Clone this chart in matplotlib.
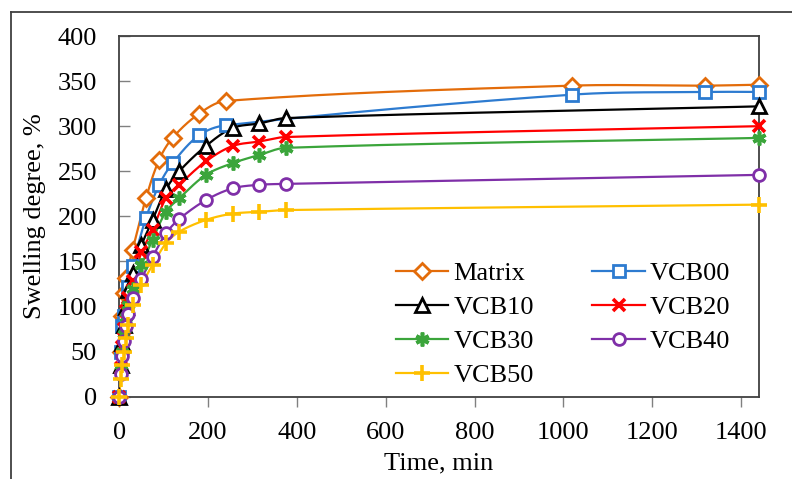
import numpy as np
import matplotlib
matplotlib.use("Agg")
import matplotlib.pyplot as plt
from matplotlib.lines import Line2D

# ---------------- data ----------------
t_matrix = [0, 3, 6, 10, 15, 30, 60, 90, 120, 180, 240, 1020, 1320, 1440]
matrix   = [0, 50, 90, 115, 132, 163, 220, 263, 287, 314, 328, 345, 345, 346]

t_vcb00 = [0, 3, 6, 10, 20, 30, 60, 90, 120, 180, 240, 1020, 1320, 1440]
vcb00   = [0, 50, 78, 90, 122, 145, 198, 235, 259, 290, 301, 335, 338, 338]

t_vcb = [0, 3, 6, 10, 15, 20, 30, 50, 75, 105, 135, 195, 255, 315, 375, 1440]
vcb10 = [0, 35, 60, 80, 100, 118, 137, 168, 196, 230, 250, 278, 298, 303, 309, 322]
vcb20 = [0, 32, 55, 75, 95, 110, 128, 160, 185, 220, 235, 261, 278, 283, 288, 300]
vcb30 = [0, 30, 50, 70, 88, 102, 120, 146, 174, 205, 220, 246, 259, 268, 276, 287]
vcb40 = [0, 25, 45, 62, 78, 92, 110, 131, 155, 181, 197, 218, 231, 235, 236, 246]
vcb50 = [0, 20, 35, 50, 65, 80, 102, 124, 146, 170, 183, 196, 203, 205, 207, 213]

names = ["Matrix", "VCB00", "VCB10", "VCB20", "VCB30", "VCB40", "VCB50"]
xticks = [0, 200, 400, 600, 800, 1000, 1200, 1400]
yticks = [0, 50, 100, 150, 200, 250, 300, 350, 400]

series = [
    (t_matrix, matrix, "#E36C0A", "D", 8.0),
    (t_vcb00, vcb00, "#2D7BD0", "s", 8.5),
    (t_vcb, vcb10, "#000000", "^", 9.5),
    (t_vcb, vcb20, "#FF0000", "x", 9.0),
    (t_vcb, vcb30, "#3BA53B", "*", 10.0),
    (t_vcb, vcb40, "#7F2FA8", "o", 8.5),
    (t_vcb, vcb50, "#FFC000", "+", 11.0),
]

XMAX, YMAX = 1440.0, 400.0
PXW, PXH = 640.0, 361.0


def smooth(xs, ys, n=40, k=0.33):
    """Smoothed line: cubic Bezier segments, Catmull-Rom tangent directions,
    handle length proportional to each segment length (screen space)."""
    P = np.column_stack([np.asarray(xs, float) / XMAX * PXW,
                         np.asarray(ys, float) / YMAX * PXH])
    m = len(P)
    T = np.zeros_like(P)
    for i in range(m):
        a = P[i - 1] if i > 0 else P[i]
        b = P[i + 1] if i < m - 1 else P[i]
        d = b - a
        nrm = np.hypot(*d)
        T[i] = d / nrm if nrm > 0 else d
    out = [P[0]]
    for i in range(m - 1):
        p1, p2 = P[i], P[i + 1]
        L = np.hypot(*(p2 - p1))
        b1 = p1 + T[i] * L * k
        b2 = p2 - T[i + 1] * L * k
        s = np.linspace(0, 1, n)[1:, None]
        seg = ((1 - s) ** 3) * p1 + 3 * ((1 - s) ** 2) * s * b1 + 3 * (1 - s) * s ** 2 * b2 + s ** 3 * p2
        out.extend(seg)
    out = np.array(out)
    return out[:, 0] / PXW * XMAX, out[:, 1] / PXH * YMAX


FS = 19
plt.rcParams["font.family"] = ["Liberation Serif", "DejaVu Serif"]
fig = plt.figure(figsize=(7.92, 4.79), dpi=100)
ax = fig.add_axes([0.1506, 0.1718, 0.958 - 0.1506, 0.9248 - 0.1718])

handles = []
for (tx, vy, col, mk, ms), nm in zip(series, names):
    sx, sy = smooth(tx, vy)
    ax.plot(sx, sy, color=col, lw=1.6, zorder=2)
    if mk == "*":
        kw = dict(marker=(6, 2, 0), markersize=ms, markeredgewidth=2.6,
                  markeredgecolor=col, markerfacecolor=col)
    elif mk in ("x", "+"):
        kw = dict(marker=mk, markersize=ms, markeredgewidth=2.6,
                  markeredgecolor=col, markerfacecolor=col)
    else:
        kw = dict(marker=mk, markersize=ms, markeredgewidth=2.0,
                  markeredgecolor=col, markerfacecolor="white")
    ax.plot(tx, vy, linestyle="none", zorder=3, clip_on=False, **kw)
    handles.append(Line2D([], [], color=col, lw=1.6, **kw))

ax.set_xlim(0, XMAX)
ax.set_ylim(0, YMAX)
ax.set_xticks(xticks)
ax.set_yticks(yticks)
ax.tick_params(axis="both", labelsize=FS, colors="#000000")
ax.tick_params(axis="x", direction="out", length=7, width=1.0, color="#808080", pad=11)
ax.tick_params(axis="y", direction="in", length=8, width=1.0, color="#808080", pad=16)
for sp in ax.spines.values():
    sp.set_color("#404040")
    sp.set_linewidth(1.3)

ax.set_xlabel("Time, min", fontsize=FS, labelpad=6)
ax.set_ylabel("Swelling degree, %", fontsize=FS, labelpad=8)

# row-major legend order (matplotlib fills columns first)
order = [0, 2, 4, 6, 1, 3, 5]
leg = ax.legend([handles[i] for i in order], [names[i] for i in order], ncol=2,
                frameon=False, fontsize=FS, loc="upper left",
                bbox_to_anchor=(0.432, 0.374), borderpad=0,
                handlelength=2.0, handletextpad=0.2, columnspacing=2.2,
                labelspacing=0.4, borderaxespad=0)

# outer frame lines (left & top)
fig.add_artist(Line2D([11 / 792, 11 / 792], [0, 1 - 12 / 479], color="#404040", lw=1.3,
                      transform=fig.transFigure))
fig.add_artist(Line2D([11 / 792, 1], [1 - 12 / 479, 1 - 12 / 479], color="#404040", lw=1.3,
                      transform=fig.transFigure))

fig.savefig("out.png", dpi=100)
